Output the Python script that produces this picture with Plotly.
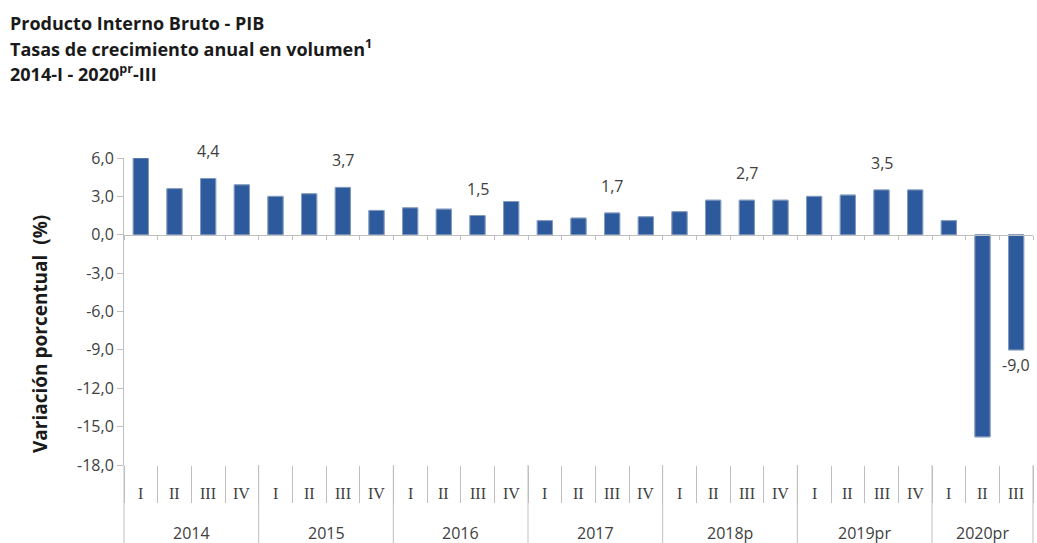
import plotly.graph_objects as go

# ---- data ----
years = ["2014", "2015", "2016", "2017", "2018p", "2019pr", "2020pr"]
quarters = ["I", "II", "III", "IV"]
values = [6.0, 3.6, 4.4, 3.9,
          3.0, 3.2, 3.7, 1.9,
          2.1, 2.0, 1.5, 2.6,
          1.1, 1.3, 1.7, 1.4,
          1.8, 2.7, 2.7, 2.7,
          3.0, 3.1, 3.5, 3.5,
          1.1, -15.8, -9.0]
labelled_quarter = "III"
y_ticks = [6.0, 3.0, 0.0, -3.0, -6.0, -9.0, -12.0, -15.0, -18.0]

# category pairs (year, quarter) for the 27 quarters
cat_year, cat_q = [], []
for y in years:
    for q in quarters:
        if len(cat_year) < len(values):
            cat_year.append(y)
            cat_q.append(q)

W, H = 1037, 543
ML, MR, MT, MB = 124, 4, 158, 78
PW, PH = W - ML - MR, H - MT - MB
ymin, ymax = min(y_ticks), max(y_ticks)
n = len(values)


def px_x(p):
    return (p - ML) / PW


def px_y(p):
    return (H - MB - p) / PH


def idx_to_paper(b):
    return (b + 0.5) / n


def fmt(v):
    return f"{v:.1f}".replace(".", ",")


BAR = "#2D5A9C"
AX = "#BFBFBF"
TXT = "#404040"
SANS = "Open Sans"

fig = go.Figure()
fig.add_trace(go.Bar(
    x=[cat_year, cat_q], y=values,
    marker=dict(color=BAR, line=dict(color="#244C88", width=1)),
    hoverinfo="x+y", showlegend=False,
))
# invisible copy on an overlay axis sitting on the zero line (for its small ticks)
fig.add_trace(go.Bar(
    x=[cat_year, cat_q], y=values, xaxis="x2",
    marker=dict(color="rgba(0,0,0,0)"), hoverinfo="skip", showlegend=False,
))

# data labels (third quarters and the last value)
for i, (q, v) in enumerate(zip(cat_q, values)):
    if q == labelled_quarter or i == n - 1:
        if v >= 0:
            fig.add_annotation(x=i, y=v, xref="x", yref="y", text=fmt(v),
                               showarrow=False, yanchor="bottom", yshift=14,
                               font=dict(family=SANS, size=16, color=TXT))
        else:
            fig.add_annotation(x=i, y=v, xref="x", yref="y", text=fmt(v),
                               showarrow=False, yanchor="top", yshift=-2,
                               font=dict(family=SANS, size=16, color=TXT))

# quarter labels
for i, q in enumerate(cat_q):
    fig.add_annotation(x=i, y=px_y(493), xref="x", yref="paper", text=q,
                       showarrow=False, yanchor="middle",
                       font=dict(family="Liberation Serif", size=16, color=TXT))

# year labels and year dividers
for y in years:
    idx = [i for i, cy in enumerate(cat_year) if cy == y]
    fig.add_annotation(x=(idx[0] + idx[-1]) / 2, y=px_y(533), xref="x", yref="paper",
                       text=y, showarrow=False, yanchor="middle",
                       font=dict(family=SANS, size=16, color=TXT))
    fig.add_shape(type="line", xref="paper", yref="paper",
                  x0=idx_to_paper(idx[0] - 0.5), x1=idx_to_paper(idx[0] - 0.5),
                  y0=0, y1=px_y(H), line=dict(color=AX, width=1))
fig.add_shape(type="line", xref="paper", yref="paper",
              x0=idx_to_paper(n - 0.5), x1=idx_to_paper(n - 0.5),
              y0=0, y1=px_y(H), line=dict(color=AX, width=1))

# titles
titles = ["<b>Producto Interno Bruto - PIB</b>",
          "<b>Tasas de crecimiento anual en volumen<sup>1</sup></b>",
          "<b>2014-I - 2020<sup>pr</sup>-III</b>"]
for t, py in zip(titles, [23, 48, 73]):
    fig.add_annotation(x=px_x(8), y=px_y(py), xref="paper", yref="paper",
                       xanchor="left", yanchor="middle", showarrow=False, text=t,
                       font=dict(family=SANS, size=18, color="#1a1a1a"))

# y-axis title
fig.add_annotation(x=px_x(40), y=px_y(334), xref="paper", yref="paper",
                   xanchor="center", yanchor="middle", showarrow=False, textangle=-90,
                   text="<b>Variación porcentual  (%)</b>",
                   font=dict(family=SANS, size=19, color="#1a1a1a"))

zero_pos = (0 - ymin) / (ymax - ymin)

fig.update_layout(
    width=W, height=H,
    margin=dict(l=ML, r=MR, t=MT, b=MB),
    paper_bgcolor="white", plot_bgcolor="white",
    bargap=0.55,
    xaxis=dict(
        range=[-0.5, n - 0.5],
        tickson="boundaries", ticks="outside", ticklen=37, tickcolor=AX,
        showticklabels=False, showdividers=False,
        showline=False, showgrid=False, zeroline=False,
    ),
    xaxis2=dict(
        overlaying="x", anchor="free", position=zero_pos, side="bottom",
        range=[-0.5, n - 0.5],
        tickson="boundaries", ticks="outside", ticklen=4, tickcolor=AX,
        showticklabels=False, showdividers=False,
        showline=True, linecolor=AX, linewidth=1, showgrid=False, zeroline=False,
    ),
    yaxis=dict(
        range=[ymin, ymax], tickvals=y_ticks, ticktext=[fmt(v) for v in y_ticks],
        ticks="outside", ticklen=6, tickcolor=AX,
        showline=True, linecolor=AX, linewidth=1,
        showgrid=False, zeroline=False,
        tickfont=dict(family=SANS, size=16, color=TXT),
    ),
)

fig.write_html("out.html")
